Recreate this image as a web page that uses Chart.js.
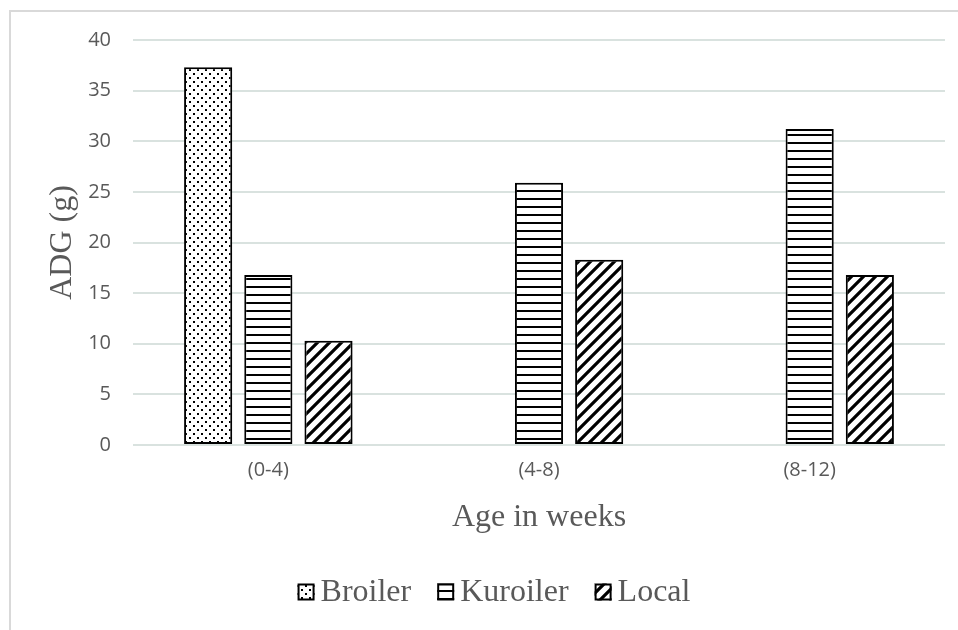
<!DOCTYPE html>
<html>
<head>
<meta charset="utf-8">
<script src="https://cdn.jsdelivr.net/npm/chart.js@4/dist/chart.umd.min.js"></script>
<style>
  html, body { margin: 0; padding: 0; background: #ffffff; }
  #wrap { position: relative; width: 958px; height: 630px; overflow: hidden; }
  canvas { display: block; }
</style>
</head>
<body>
<div id="wrap"><canvas id="chart" width="958" height="630"></canvas></div>
<script>
// Average daily gain by age period
const categories = ['(0-4)', '(4-8)', '(8-12)'];
const broiler = [37.3, null, null];
const kuroiler = [16.8, 25.9, 31.2];
const local = [10.3, 18.3, 16.8];
const seriesNames = ['Broiler', 'Kuroiler', 'Local'];

// Monochrome hatch fills
function makePattern(kind) {
  const c = document.createElement('canvas');
  const ctx = c.getContext('2d');
  if (kind === 'dots') {
    c.width = 8; c.height = 8;
    ctx.fillStyle = '#fff'; ctx.fillRect(0, 0, 8, 8);
    ctx.fillStyle = '#000';
    ctx.fillRect(1, 1, 2, 2);
    ctx.fillRect(5, 5, 2, 2);
  } else if (kind === 'hlines') {
    c.width = 8; c.height = 8;
    ctx.fillStyle = '#fff'; ctx.fillRect(0, 0, 8, 8);
    ctx.fillStyle = '#000';
    ctx.fillRect(0, 6, 8, 2);
  } else {
    const s = 12;
    c.width = s; c.height = s;
    ctx.fillStyle = '#fff'; ctx.fillRect(0, 0, s, s);
    ctx.strokeStyle = '#000'; ctx.lineWidth = 3.2;
    ctx.beginPath();
    ctx.moveTo(-2, s + 2); ctx.lineTo(s + 2, -2);
    ctx.moveTo(-2, 2); ctx.lineTo(2, -2);
    ctx.moveTo(s - 2, s + 2); ctx.lineTo(s + 2, s - 2);
    ctx.stroke();
  }
  return c.getContext('2d').createPattern(c, 'repeat');
}

const fills = [makePattern('dots'), makePattern('hlines'), makePattern('diag')];

const grey = '#595959';
const serif = '"Liberation Serif", "Times New Roman", serif';
const sans = '"Open Sans", "Liberation Sans", sans-serif';
const legendFont = '32px ' + serif;

// Light frame around the chart
const framePlugin = {
  id: 'frame',
  beforeDraw(chart) {
    const ctx = chart.ctx;
    ctx.save();
    ctx.fillStyle = '#ffffff';
    ctx.fillRect(0, 0, chart.width, chart.height);
    ctx.strokeStyle = '#d9d9d9';
    ctx.lineWidth = 2;
    ctx.beginPath();
    ctx.moveTo(10, chart.height + 5);
    ctx.lineTo(10, 11);
    ctx.lineTo(chart.width + 5, 11);
    ctx.stroke();
    ctx.restore();
  }
};

// Compact legend row: small swatch tight against its label
const legendPlugin = {
  id: 'compactLegend',
  afterDraw(chart) {
    const ctx = chart.ctx;
    const items = chart.data.datasets.map(ds => ({ text: ds.label, fill: ds.backgroundColor }));
    const box = 17, gapText = 6, gapItem = 26;
    ctx.save();
    ctx.font = legendFont;
    const widths = items.map(it => box + gapText + ctx.measureText(it.text).width);
    const total = widths.reduce((a, b) => a + b, 0) + gapItem * (items.length - 1);
    let x = 494 - total / 2;
    const cy = 592;
    items.forEach((it, i) => {
      ctx.fillStyle = it.fill;
      ctx.fillRect(x, cy - box / 2, box, box);
      ctx.strokeStyle = '#000';
      ctx.lineWidth = 2;
      ctx.strokeRect(x + 1, cy - box / 2 + 1, box - 2, box - 2);
      ctx.fillStyle = grey;
      ctx.textBaseline = 'middle';
      ctx.textAlign = 'left';
      ctx.fillText(it.text, x + box + gapText, cy + 1);
      x += widths[i] + gapItem;
    });
    ctx.restore();
  }
};

new Chart(document.getElementById('chart'), {
  type: 'bar',
  data: {
    labels: categories,
    datasets: [broiler, kuroiler, local].map((vals, i) => ({
      label: seriesNames[i],
      data: vals,
      backgroundColor: fills[i],
      borderColor: '#000000',
      borderWidth: 2,
      borderSkipped: false,
      categoryPercentage: 0.667,
      barPercentage: 0.8
    }))
  },
  options: {
    responsive: false,
    animation: false,
    layout: { padding: { left: 0, right: 13, top: 40, bottom: 85 } },
    plugins: {
      legend: { display: false },
      tooltip: { enabled: false }
    },
    scales: {
      x: {
        grid: { display: false },
        border: { display: false },
        ticks: { color: grey, font: { family: sans, size: 20 }, padding: 5 },
        title: {
          display: true, text: 'Age in weeks', color: grey,
          font: { family: serif, size: 32 }, padding: { top: 0, bottom: 8 }
        },
        afterFit(scale) { scale.height = 100; }
      },
      y: {
        min: 0, max: 40,
        ticks: { stepSize: 5, color: grey, font: { family: sans, size: 20 }, padding: 22 },
        grid: { color: '#d9e2df', lineWidth: 2, drawTicks: false },
        border: { display: false },
        title: {
          display: true, text: 'ADG (g)', color: grey,
          font: { family: serif, size: 32 }, padding: { top: 43, bottom: 0 }
        },
        afterFit(scale) { scale.width = 133; }
      }
    }
  },
  plugins: [framePlugin, legendPlugin]
});
</script>
</body>
</html>
